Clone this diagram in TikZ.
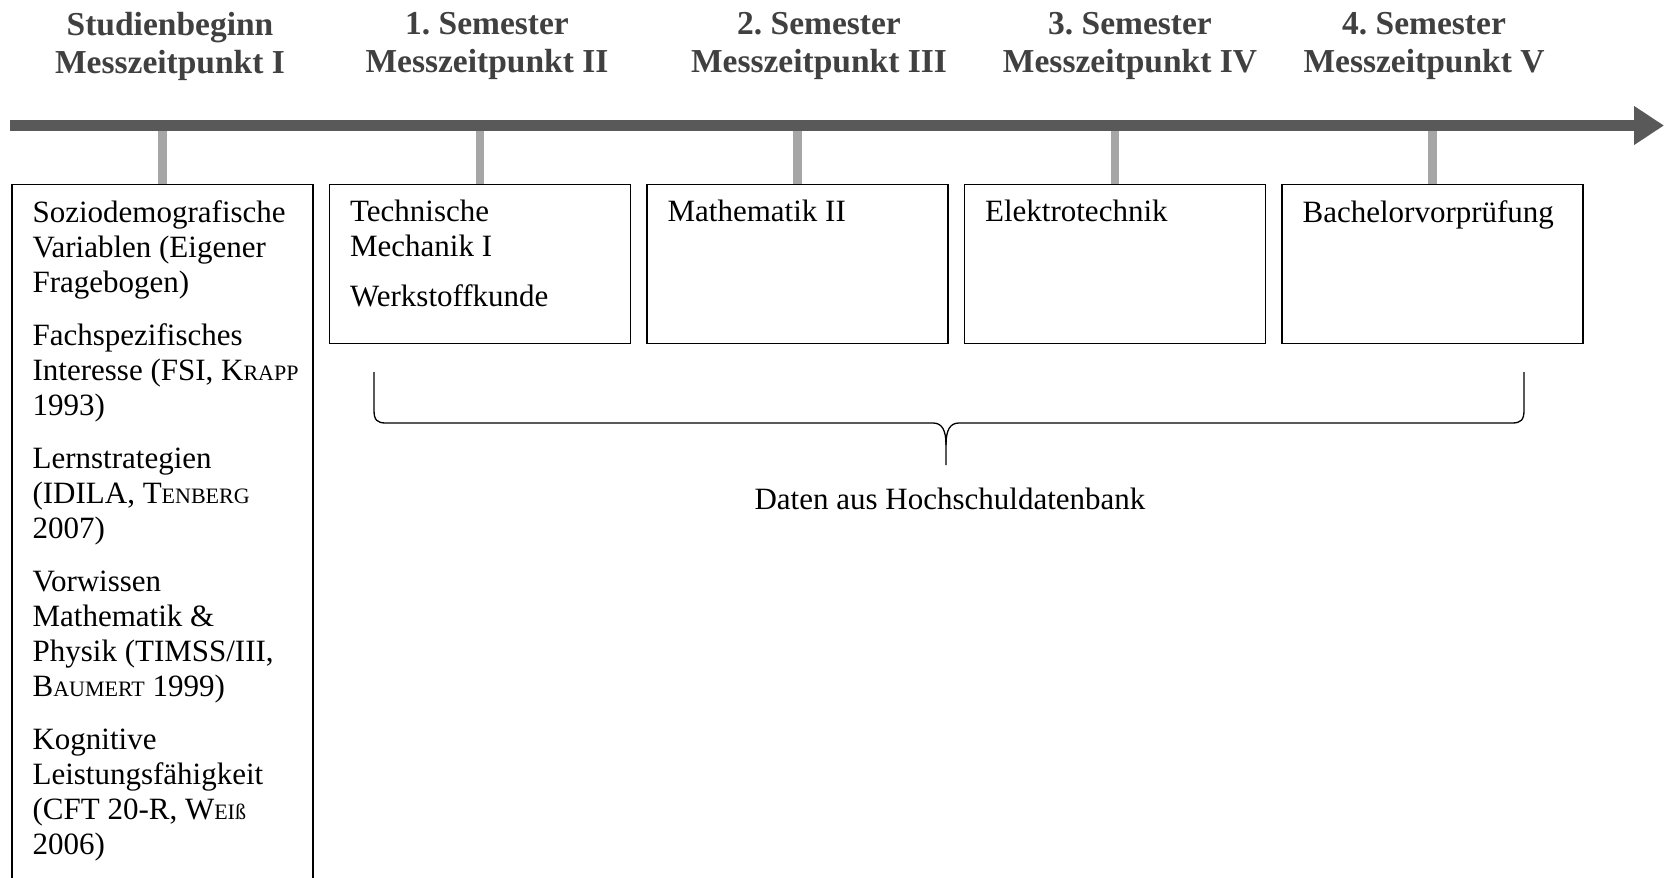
\documentclass[tikz,border=0pt]{standalone}
\usepackage{fontspec}
\setmainfont{Liberation Serif}
\usetikzlibrary{arrows.meta,positioning}
\frenchspacing
\newcommand\kapit[2]{#1{\fontsize{22}{35}\selectfont#2}}
\tikzset{
	stage/.style={draw=black, line width=1.2pt, minimum width=301pt, inner sep=0pt},
	stagetext/.style={anchor=north west, align=left, inner xsep=21pt, inner ysep=16pt, font=\fontsize{31}{35}\selectfont},
	headline/.style={anchor=north, align=center, inner sep=0pt, text=black!75, font=\fontsize{33.5}{38}\selectfont\bfseries},
	timeline/.style={line width=11pt, draw=black!65, -{Triangle[length=30pt,width=37pt]}},
	tickbar/.style={line width=8.5pt, draw=black!35},
	databrace/.style={line width=1.3pt},
}

\begin{document}
\begin{tikzpicture}[x=1pt, y=-1pt]
			%%%%% START %%%%%
			\useasboundingbox (0,0) rectangle (1665,878);
			
			\node[headline] (h1) at (170, 12) {Studienbeginn\\Messzeitpunkt I};
			\node[headline] (h2) at (487, 12) {1. Semester\\Messzeitpunkt II};
			\node[headline] (h3) at (819, 12) {2. Semester\\Messzeitpunkt III};
			\node[headline] (h4) at (1130, 12) {3. Semester\\Messzeitpunkt IV};
			\node[headline] (h5) at (1424, 12) {4. Semester\\Messzeitpunkt V};
			
			\coordinate (t0) at (10, 125.5);
			\coordinate (t1) at (1664, 125.5);
			
			\node[stage, anchor=north, minimum height=720pt] (b1) at (162.5, 184) {};
			\node[stage, anchor=north, minimum height=159pt] (b2) at (480, 184) {};
			\node[stage, anchor=north, minimum height=159pt] (b3) at (797.5, 184) {};
			\node[stage, anchor=north, minimum height=159pt] (b4) at (1115, 184) {};
			\node[stage, anchor=north, minimum height=159pt] (b5) at (1432.5, 184) {};
			
			\draw[tickbar] (b1.north) -- (b1.north |- t0);
			\draw[tickbar] (b2.north) -- (b2.north |- t0);
			\draw[tickbar] (b3.north) -- (b3.north |- t0);
			\draw[tickbar] (b4.north) -- (b4.north |- t0);
			\draw[tickbar] (b5.north) -- (b5.north |- t0);
			
			\draw[timeline] (t0) -- (t1);
			
			\node[stagetext] (v1) at (b1.north west) {Soziodemografische\\Variablen (Eigener\\Fragebogen)\\[18pt]
				Fachspezifisches\\Interesse (FSI, \kapit{K}{RAPP}\\1993)\\[18pt]
				Lernstrategien\\(IDILA, \kapit{T}{ENBERG}\\2007)\\[18pt]
				Vorwissen\\Mathematik \&\\Physik (TIMSS/III,\\\kapit{B}{AUMERT} 1999)\\[18pt]
				Kognitive\\Leistungsfähigkeit\\(CFT 20-R, \kapit{W}{EIß}\\2006)};
			\node[stagetext] (v2) at (b2.north west) {Technische\\Mechanik I\\[15pt]Werkstoffkunde};
			\node[stagetext] (v3) at (b3.north west) {Mathematik II};
			\node[stagetext] (v4) at (b4.north west) {Elektrotechnik};
			\node[stagetext] (v5) at (b5.north west) {Bachelorvorprüfung};
			
			% Klammer unter den Semestern
			\coordinate (bl) at (374, 372);
			\coordinate (br) at (1524, 372);
			\coordinate (bt) at (946, 465);
			\draw[databrace] (bl) -- (374, 410) .. controls (374, 420) and (377, 423) .. (386, 423) -- (933, 423) .. controls (942, 423) and (946, 430) .. (946, 445) -- (bt);
			\draw[databrace] (br) -- (1524, 410) .. controls (1524, 420) and (1521, 423) .. (1512, 423) -- (959, 423) .. controls (950, 423) and (946, 430) .. (946, 445);
			
			\node[font=\fontsize{31}{35}\selectfont] (db) at (950, 499) {Daten aus Hochschuldatenbank};
			
			%%%%% END %%%%%
\end{tikzpicture}
\end{document}
